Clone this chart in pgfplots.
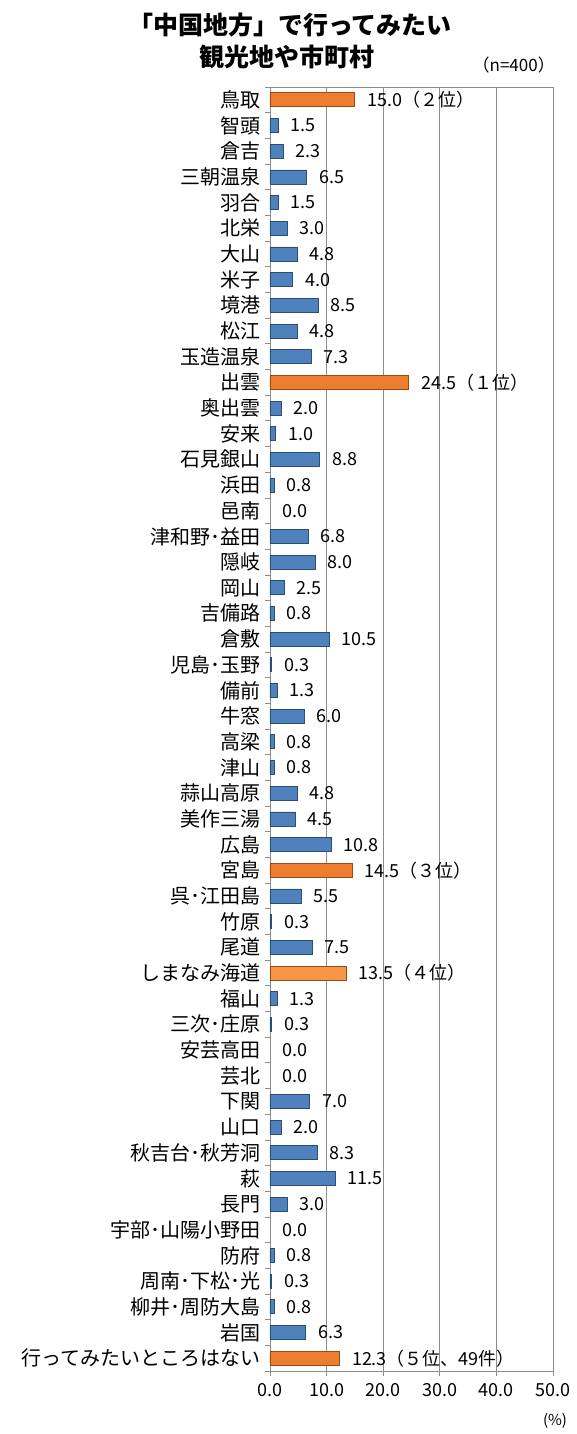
\documentclass[border=0pt]{standalone}
\usepackage{fontspec}
\setmainfont{Noto Sans CJK JP}
\usepackage{pgfplots}
\pgfplotsset{compat=1.18}
\usepackage{pgfplotstable}
\definecolor{barblue}{HTML}{4F81BD}
\definecolor{bluedge}{HTML}{2C4D75}
\definecolor{barorange}{HTML}{ED7D31}
\definecolor{orangedge}{HTML}{9C4A12}
\definecolor{lightorange}{HTML}{F79646}
\definecolor{gridgray}{HTML}{8C8C8C}

\pgfplotstableread[col sep=comma]{
y,x,lab
1,1.5,1.5
2,2.3,2.3
3,6.5,6.5
4,1.5,1.5
5,3.0,3.0
6,4.8,4.8
7,4.0,4.0
8,8.5,8.5
9,4.8,4.8
10,7.3,7.3
12,2.0,2.0
13,1.0,1.0
14,8.8,8.8
15,0.8,0.8
17,6.8,6.8
18,8.0,8.0
19,2.5,2.5
20,0.8,0.8
21,10.5,10.5
22,0.3,0.3
23,1.3,1.3
24,6.0,6.0
25,0.8,0.8
26,0.8,0.8
27,4.8,4.8
28,4.5,4.5
29,10.8,10.8
31,5.5,5.5
32,0.3,0.3
33,7.5,7.5
35,1.3,1.3
36,0.3,0.3
39,7.0,7.0
40,2.0,2.0
41,8.3,8.3
42,11.5,11.5
43,3.0,3.0
45,0.8,0.8
46,0.3,0.3
47,0.8,0.8
48,6.3,6.3
}\bluedata

\pgfplotstableread[col sep=comma]{
y,x,lab
0,15.0,15.0（２位）
11,24.5,24.5（１位）
30,14.5,14.5（３位）
49,12.3,12.3（５位、49件）
}\orangedata

\pgfplotstableread[col sep=comma]{
y,x,lab
34,13.5,13.5（４位）
}\lightdata

\pgfplotstableread[col sep=comma]{
y,x,lab
16,0.0,0.0
37,0.0,0.0
38,0.0,0.0
44,0.0,0.0
}\zerodata

\begin{document}
\begin{tikzpicture}[x=1pt,y=1pt]
\useasboundingbox (-270pt,-63pt) rectangle (306pt,1371pt);
\begin{axis}[
  at={(0pt,0pt)}, anchor=south west,
  scale only axis, width=283pt, height=1284pt,
  xbar, bar width=14pt,
  xmin=0, xmax=50, ymin=-0.5, ymax=49.5,
  y dir=reverse,
  /pgf/number format/assume math mode=true,
  xtick={0,10,...,50},
  xticklabel={\pgfmathprintnumber[fixed,fixed zerofill,precision=1]{\tick}},
  xticklabel style={font=\fontsize{18}{20}\selectfont, yshift=-4pt},
  xmajorgrids, grid style={gridgray, line width=0.8pt},
  ytick={-0.5,0.5,...,49.5},
  y tick label as interval,
  yticklabels={鳥取,智頭,倉吉,三朝温泉,羽合,北栄,大山,米子,境港,松江,玉造温泉,出雲,奥出雲,安来,石見銀山,浜田,邑南,津和野･益田,隠岐,岡山,吉備路,倉敷,児島･玉野,備前,牛窓,高梁,津山,蒜山高原,美作三湯,広島,宮島,呉･江田島,竹原,尾道,しまなみ海道,福山,三次･庄原,安芸高田,芸北,下関,山口,秋吉台･秋芳洞,萩,長門,宇部･山陽小野田,防府,周南･下松･光,柳井･周防大島,岩国,行ってみたいところはない},
  yticklabel style={font=\fontsize{20}{22}\selectfont, inner sep=0pt, xshift=-4pt},
  tick align=outside, major tick length=5pt,
  xtick pos=bottom, ytick pos=left,
  tick style={gridgray, line width=0.8pt},
  axis line style={gridgray, line width=0.8pt},
  nodes near coords={\pgfplotspointmeta},
  point meta=explicit symbolic,
  every node near coord/.append style={anchor=west, inner sep=0pt, xshift=12pt, font=\fontsize{18}{20}\selectfont, text=black},
  clip=false,
]
\addplot[bar shift=0pt, fill=barblue, draw=bluedge, line width=0.8pt] table[x=x, y=y, meta=lab] {\bluedata};
\addplot[bar shift=0pt, fill=barorange, draw=orangedge, line width=0.8pt] table[x=x, y=y, meta=lab] {\orangedata};
\addplot[bar shift=0pt, fill=lightorange, draw=orangedge, line width=0.8pt] table[x=x, y=y, meta=lab] {\lightdata};
\addplot[bar shift=0pt, draw=none, fill=none] table[x=x, y=y, meta=lab] {\zerodata};
\end{axis}
\node[font=\fontsize{25}{27}\selectfont\bfseries] at (20pt,1346pt) {「中国地方」で行ってみたい};
\node[font=\fontsize{25}{27}\selectfont\bfseries] at (17pt,1314pt) {観光地や市町村};
\node[font=\fontsize{17}{19}\selectfont, anchor=east, inner sep=0pt] at (285pt,1306pt) {（n=400）};
\node[font=\fontsize{15}{17}\selectfont] at (285pt,-50pt) {(\%)};
\end{tikzpicture}
\end{document}
